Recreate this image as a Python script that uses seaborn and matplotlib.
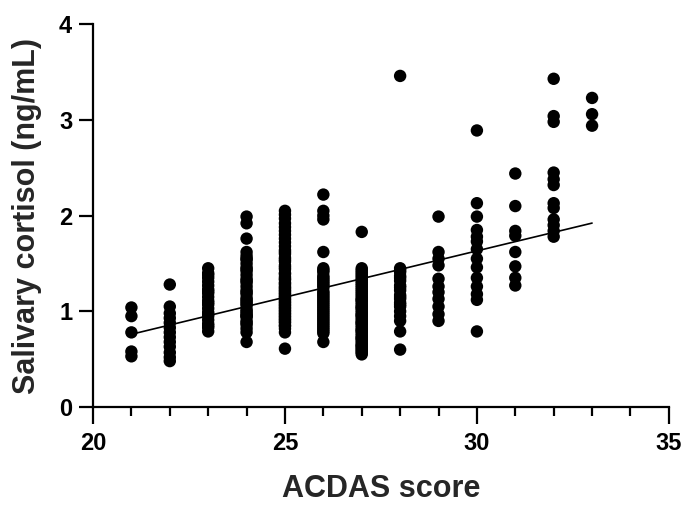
import numpy as np
import pandas as pd
import matplotlib
matplotlib.use("Agg")
import matplotlib.pyplot as plt
import seaborn as sns
from matplotlib.ticker import MultipleLocator

# ---- data (dense columns contain overlapping points) ----
col21 = [1.04, 0.95, 0.78, 0.58, 0.53]
col22 = [1.28, 1.05, 0.98, 0.93, 0.88, 0.83, 0.78, 0.73, 0.68, 0.63, 0.57, 0.52, 0.48]
col23 = [1.45, 1.40, 1.38, 1.35, 1.31, 1.27, 1.23, 1.21, 1.19, 1.15, 1.11, 1.09,
         1.07, 1.03, 0.99, 0.97, 0.95, 0.91, 0.87, 0.85, 0.83, 0.79]
col24 = [1.99, 1.92, 1.76, 1.62, 1.58, 1.55, 1.54, 1.50, 1.46, 1.44, 1.42, 1.38,
         1.34, 1.32, 1.30, 1.26, 1.22, 1.20, 1.18, 1.14, 1.12, 1.10, 1.08, 1.06,
         1.02, 1.00, 0.98, 0.96, 0.95, 0.94, 0.90, 0.88, 0.86, 0.82, 0.78, 0.68]
col25 = [2.05, 2.01, 1.97, 1.92, 1.88, 1.84, 1.80, 1.76, 1.72, 1.68, 1.64, 1.62,
         1.60, 1.56, 1.54, 1.52, 1.48, 1.46, 1.44, 1.40, 1.39, 1.36, 1.34, 1.33,
         1.30, 1.29, 1.27, 1.25, 1.24, 1.22, 1.21, 1.19, 1.18, 1.16, 1.15, 1.13,
         1.12, 1.10, 1.09, 1.07, 1.06, 1.04, 1.03, 1.01, 1.00, 0.98, 0.97, 0.95,
         0.94, 0.92, 0.91, 0.89, 0.88, 0.85, 0.85, 0.82, 0.78, 0.61]
col26 = [2.22, 2.05, 2.00, 1.96, 1.62, 1.45, 1.43, 1.41, 1.37, 1.35, 1.33, 1.31,
         1.29, 1.27, 1.25, 1.21, 1.19, 1.17, 1.15, 1.13, 1.11, 1.09, 1.07, 1.05,
         1.03, 1.01, 0.99, 0.97, 0.95, 0.93, 0.91, 0.89, 0.87, 0.85, 0.83, 0.81,
         0.79, 0.77, 0.68]
col27 = [1.83, 1.45, 1.43, 1.41, 1.39, 1.37, 1.35, 1.33, 1.31, 1.29, 1.27, 1.25,
         1.23, 1.21, 1.19, 1.17, 1.15, 1.13, 1.12, 1.11, 1.09, 1.07, 1.05, 1.04,
         1.03, 1.01, 0.99, 0.97, 0.96, 0.95, 0.93, 0.91, 0.89, 0.88, 0.87, 0.85,
         0.83, 0.81, 0.80, 0.79, 0.77, 0.75, 0.73, 0.72, 0.71, 0.69, 0.67, 0.65,
         0.64, 0.63, 0.61, 0.60, 0.58, 0.57, 0.55]
col28 = [3.46, 1.45, 1.43, 1.41, 1.37, 1.35, 1.32, 1.27, 1.25, 1.22, 1.17, 1.15,
         1.13, 1.09, 1.07, 1.05, 1.00, 0.95, 0.90, 0.79, 0.60]
col29 = [1.99, 1.62, 1.55, 1.48, 1.34, 1.26, 1.20, 1.13, 1.05, 0.97, 0.90]
col30 = [2.89, 2.13, 1.99, 1.85, 1.78, 1.73, 1.65, 1.55, 1.46, 1.35, 1.26, 1.18,
         1.12, 0.79]
col31 = [2.44, 2.10, 1.84, 1.79, 1.62, 1.47, 1.35, 1.27]
col32 = [3.43, 3.04, 2.98, 2.45, 2.38, 2.32, 2.13, 2.08, 1.96, 1.90, 1.84, 1.78]
col33 = [3.23, 3.06, 2.94]

scores = [21, 22, 23, 24, 25, 26, 27, 28, 29, 30, 31, 32, 33]
columns = [col21, col22, col23, col24, col25, col26, col27, col28, col29,
           col30, col31, col32, col33]

x_ticks = [20, 25, 30, 35]
y_ticks = [0, 1, 2, 3, 4]

rows = [(s, v) for s, col in zip(scores, columns) for v in col]
df = pd.DataFrame(rows, columns=["ACDAS", "cortisol"])

# ---- plot ----
sns.set_style("ticks")
plt.rcParams['font.family'] = ['Liberation Sans', 'DejaVu Sans']
plt.rcParams['font.weight'] = 'bold'

fig = plt.figure(figsize=(6.86, 5.05), dpi=100)
ax = fig.add_axes([0.1356, 0.194, 0.975 - 0.1356, 0.952 - 0.194])

sns.regplot(data=df, x="ACDAS", y="cortisol", ax=ax, ci=None, truncate=True,
            scatter_kws=dict(s=80, color="black", edgecolor="none", alpha=1),
            line_kws=dict(color="black", linewidth=1.2))

ax.set_xlim(20, 35)
ax.set_ylim(0, 4)
ax.set_xticks(x_ticks)
ax.set_yticks(y_ticks)
ax.xaxis.set_minor_locator(MultipleLocator(1))
ax.set_xticklabels([str(t) for t in x_ticks], fontsize=17, fontweight='bold')
ax.set_yticklabels([str(t) for t in y_ticks], fontsize=17, fontweight='bold')

for sp in ["top", "right"]:
    ax.spines[sp].set_visible(False)
for sp in ["left", "bottom"]:
    ax.spines[sp].set_linewidth(1.6)
    ax.spines[sp].set_color("black")

ax.tick_params(axis="x", which="major", length=12, width=1.6, pad=6, colors="black")
ax.tick_params(axis="x", which="minor", length=6.5, width=1.6, colors="black")
ax.tick_params(axis="y", which="major", length=10, width=1.6, pad=5, colors="black")
for c in ax.collections:
    c.set_clip_on(False)

ax.set_xlabel("ACDAS score", fontsize=22, fontweight='bold', labelpad=14)
ax.set_ylabel("Salivary cortisol (ng/mL)", fontsize=22, fontweight='bold', labelpad=12)

fig.savefig("out.png", dpi=100)
